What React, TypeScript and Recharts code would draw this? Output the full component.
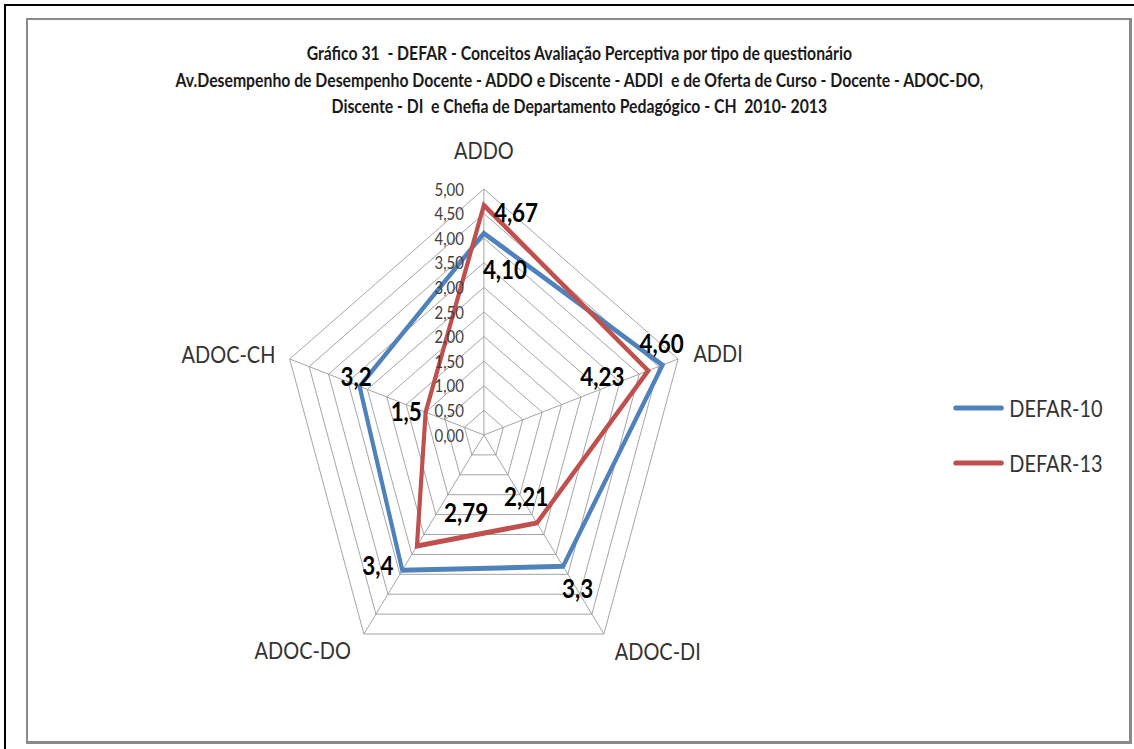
import { LabelList, Legend, PolarAngleAxis, PolarGrid, PolarRadiusAxis, Radar, RadarChart } from "recharts";

// the source picture is squeezed horizontally, so the chart is drawn wide and scaled back
const SQUEEZE = 0.83;
const CHART_W = 1366;
const CHART_H = 749;
const FONT = "Lato, 'Liberation Sans', sans-serif";

const CATEGORIES = ["ADDO", "ADDI", "ADOC-DI", "ADOC-DO", "ADOC-CH"];
const DEFAR_10 = [4.1, 4.6, 3.3, 3.4, 3.2];
const DEFAR_13 = [4.67, 4.23, 2.21, 2.79, 1.5];
const DEFAR_10_LABELS = ["4,10", "4,60", "3,3", "3,4", "3,2"];
const DEFAR_13_LABELS = ["4,67", "4,23", "2,21", "2,79", "1,5"];
const RADIUS_TICKS = [0, 0.5, 1, 1.5, 2, 2.5, 3, 3.5, 4, 4.5, 5];
const RADIUS_TICK_LABELS = ["0,00", "0,50", "1,00", "1,50", "2,00", "2,50", "3,00", "3,50", "4,00", "4,50", "5,00"];
const TITLE_LINES = [
  "Gráfico 31  - DEFAR - Conceitos Avaliação Perceptiva por tipo de questionário",
  "Av.Desempenho de Desempenho Docente - ADDO e Discente - ADDI  e de Oferta de Curso - Docente - ADOC-DO,",
  "Discente - DI  e Chefia de Departamento Pedagógico - CH  2010- 2013",
];

const data = CATEGORIES.map((name, i) => ({ name, d10: DEFAR_10[i], d13: DEFAR_13[i] }));

// label placement relative to each point (picture px)
const D10_OFFSETS: [number, number][] = [[-1, 35], [-23, -22], [-1, 21], [-40, -6], [-19, -11]];
const D13_OFFSETS: [number, number][] = [[10, 6], [-68, 5], [-33, -27], [27, -34], [-35, -2]];

const AXIS_LABEL_POS: Record<string, { dx: number; dy: number; anchor: "start" | "middle" | "end" }> = {
  ADDO: { dx: 0, dy: -31, anchor: "middle" },
  ADDI: { dx: 9, dy: -4, anchor: "start" },
  "ADOC-DI": { dx: 7, dy: 10, anchor: "start" },
  "ADOC-DO": { dx: -9, dy: 9, anchor: "end" },
  "ADOC-CH": { dx: -8, dy: -3, anchor: "end" },
};

function AngleTick(props: any) {
  const { x, y, payload } = props;
  const p = AXIS_LABEL_POS[payload.value] || { dx: 0, dy: 0, anchor: "middle" };
  return (
    <text x={x + p.dx / SQUEEZE} y={y + p.dy} textAnchor={p.anchor} dominantBaseline="central" fontSize={24} fill="#333" fontFamily={FONT}>
      {payload.value}
    </text>
  );
}

function RadiusTick(props: any) {
  const { x, y, payload } = props;
  const i = RADIUS_TICKS.indexOf(payload.value);
  return (
    <text x={x - 20 / SQUEEZE} y={y} textAnchor="end" dominantBaseline="central" fontSize={18} fill="#404040" fontFamily={FONT}>
      {i >= 0 ? RADIUS_TICK_LABELS[i] : ""}
    </text>
  );
}

const makeLabel = (labels: string[], offsets: [number, number][]) => (props: any) => {
  const x = props.x ?? props.viewBox?.x;
  const y = props.y ?? props.viewBox?.y;
  const i = props.index ?? 0;
  const [dx, dy] = offsets[i];
  return (
    <text key={i} x={x + dx / SQUEEZE} y={y + dy} textAnchor="start" dominantBaseline="central" fontSize={27} fontWeight="bold" fill="#000" fontFamily={FONT}>
      {labels[i]}
    </text>
  );
};

function LegendContent({ payload }: any) {
  return (
    <div style={{ fontFamily: FONT }}>
      {(payload || []).map((p: any) => (
        <div key={p.value} style={{ display: "flex", alignItems: "center", height: 55 }}>
          <svg width={62} height={10}>
            <line x1={3} y1={5} x2={59} y2={5} stroke={p.color} strokeWidth={5} strokeLinecap="round" />
          </svg>
          <span style={{ marginLeft: 6, fontSize: 24, color: "#333" }}>{p.value}</span>
        </div>
      ))}
    </div>
  );
}

export default function App() {
  return (
    <div style={{ position: "absolute", left: 0, top: 0, width: 1134, height: 749, overflow: "hidden", background: "#fff" }}>
      <div style={{ position: "absolute", left: 4, top: 4, width: 1200, height: 800, borderLeft: "2px solid #000", borderTop: "2px solid #000" }} />
      <div
        style={{
          position: "absolute",
          left: 26,
          top: 18,
          width: 1106,
          height: 726,
          boxSizing: "border-box",
          borderLeft: "2px solid #8a8a8a",
          borderTop: "2px solid #8a8a8a",
          borderRight: "3px solid #8a8a8a",
          borderBottom: "3px solid #8a8a8a",
        }}
      />
      <div style={{ position: "absolute", left: 0, top: 0, width: CHART_W, height: CHART_H, transform: `scaleX(${SQUEEZE})`, transformOrigin: "0 0" }}>
        <div
          style={{
            position: "absolute",
            left: 98,
            top: 40,
            width: 1200,
            textAlign: "center",
            fontFamily: FONT,
            fontWeight: "bold",
            fontSize: 19,
            lineHeight: "26.5px",
            color: "#1a1a1a",
            whiteSpace: "pre",
          }}
        >
          {TITLE_LINES.map((t) => (
            <div key={t}>{t}</div>
          ))}
        </div>
        <RadarChart width={CHART_W} height={CHART_H} data={data} cx={583} cy={435} outerRadius={246} margin={{ top: 0, right: 0, bottom: 0, left: 0 }}>
          <PolarGrid gridType="polygon" stroke="#9c9c9c" strokeWidth={1} />
          <PolarAngleAxis dataKey="name" tick={AngleTick} tickLine={false} tickSize={0} axisLine={false} />
          <PolarRadiusAxis
            angle={90}
            type="number"
            domain={[0, 5]}
            ticks={RADIUS_TICKS as any}
            tickCount={11}
            tick={RadiusTick}
            axisLine={false}
            tickLine={false}
          />
          <Radar name="DEFAR-10" dataKey="d10" stroke="#4f81bd" strokeWidth={5} fill="none" fillOpacity={0} dot={false} isAnimationActive={false}>
            <LabelList dataKey="d10" content={makeLabel(DEFAR_10_LABELS, D10_OFFSETS)} />
          </Radar>
          <Radar name="DEFAR-13" dataKey="d13" stroke="#c0504d" strokeWidth={5} fill="none" fillOpacity={0} dot={false} isAnimationActive={false}>
            <LabelList dataKey="d13" content={makeLabel(DEFAR_13_LABELS, D13_OFFSETS)} />
          </Radar>
          <Legend content={LegendContent} wrapperStyle={{ left: 1148, top: 380, width: 220 }} />
        </RadarChart>
      </div>
    </div>
  );
}
